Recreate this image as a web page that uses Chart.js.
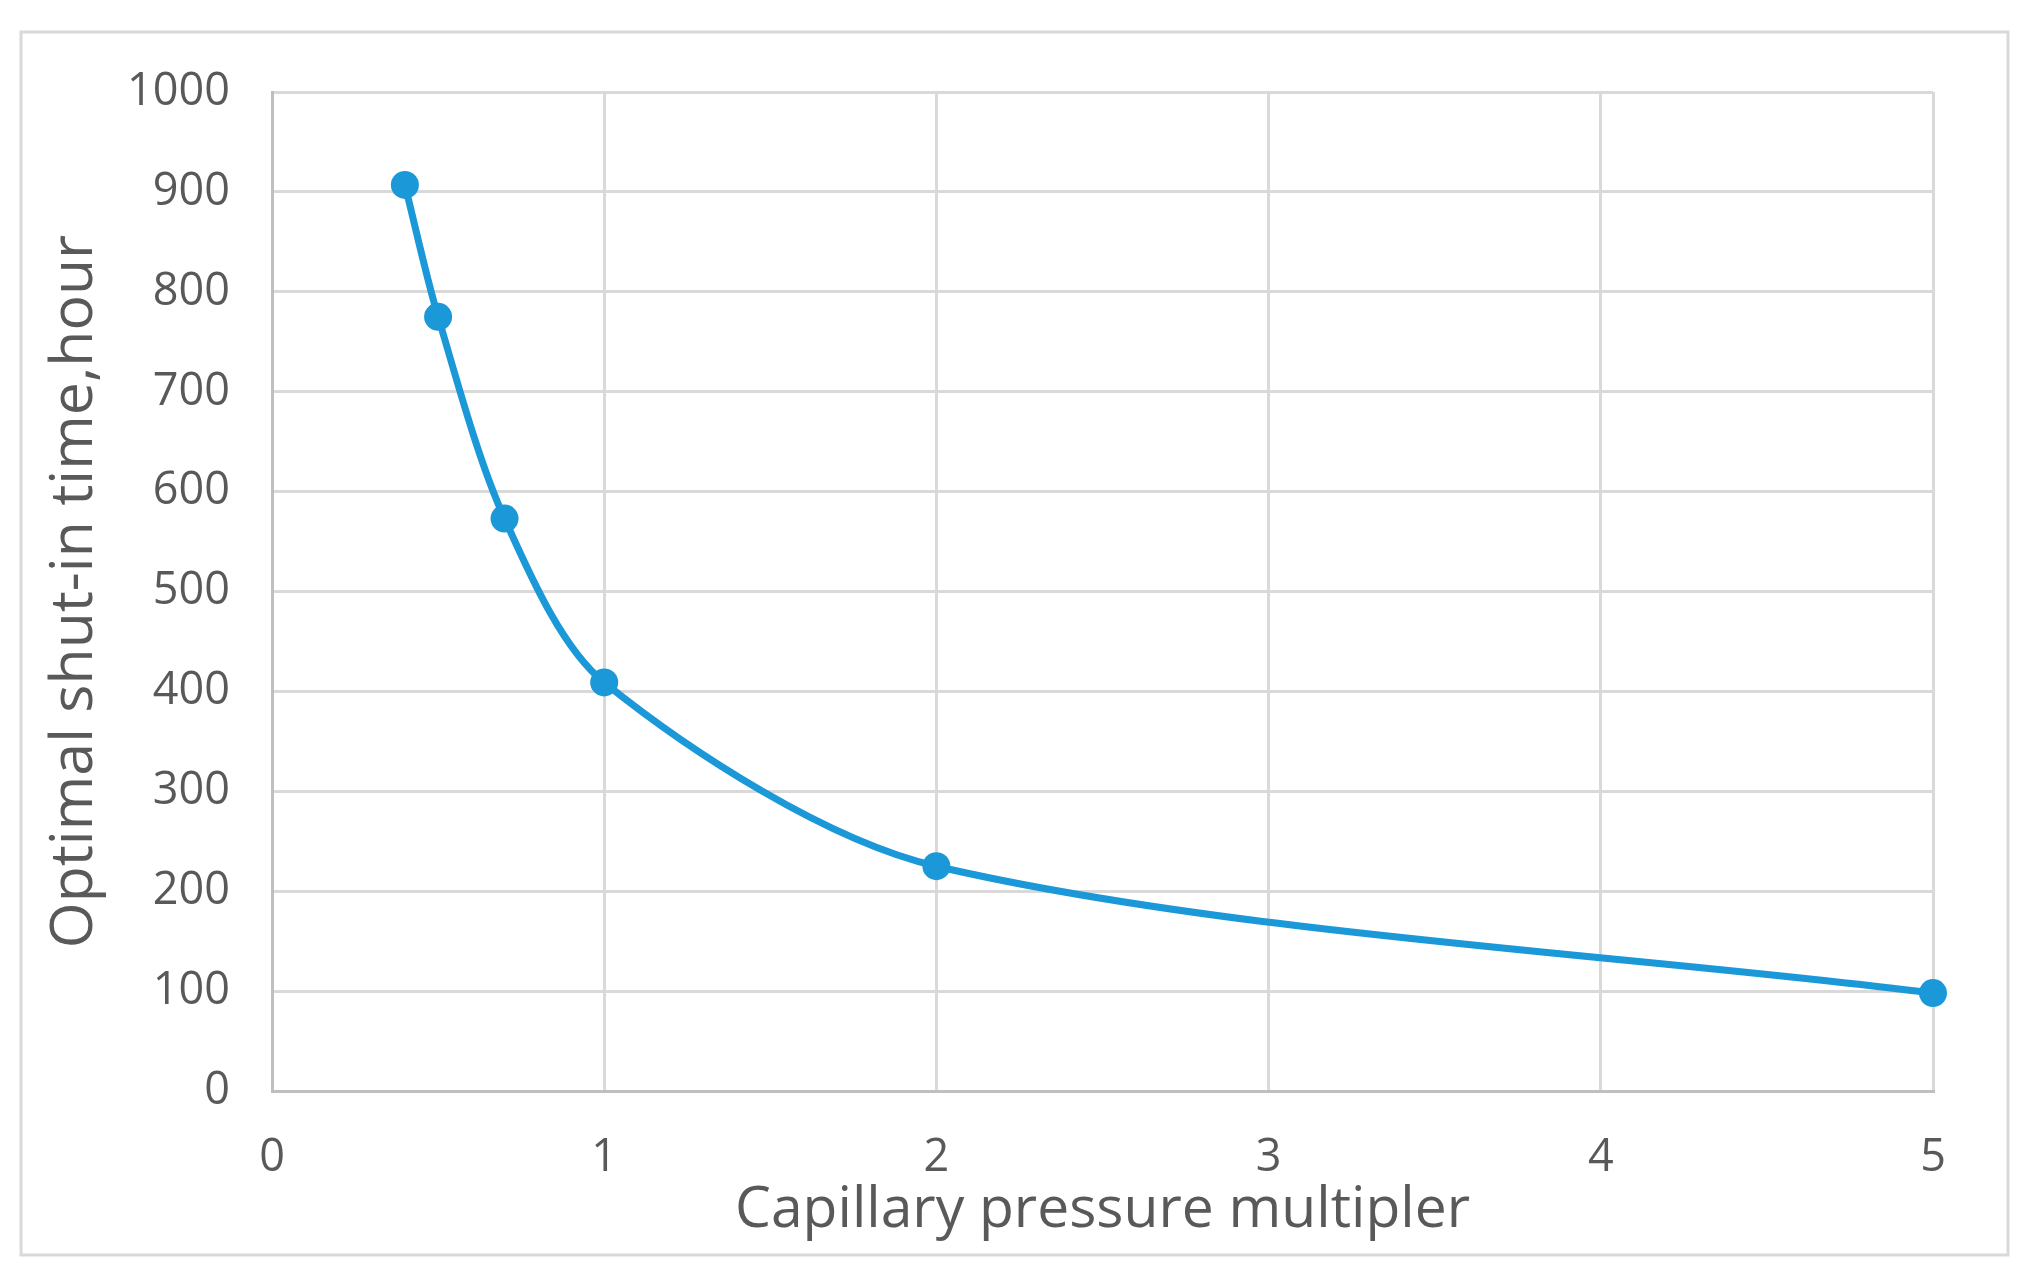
<!DOCTYPE html>
<html>
<head>
<meta charset="utf-8">
<script src="https://cdn.jsdelivr.net/npm/chart.js@4.4.1/dist/chart.umd.min.js"></script>
<style>
  html, body { margin: 0; padding: 0; background: #fff; }
  #wrap { width: 2025px; height: 1275px; position: relative; }
</style>
</head>
<body>
<div id="wrap"><canvas id="myChart" width="2025" height="1275"></canvas></div>
<script>
var multiplier = [0.4, 0.5, 0.7, 1, 2, 5];
var shutInHours = [907, 775, 573, 409, 225, 98];
var xTicks = [0, 1, 2, 3, 4, 5];
var yTicks = [0, 100, 200, 300, 400, 500, 600, 700, 800, 900, 1000];

var textGray = "#595959";
var blue = "#1b98d8";

// light outer frame like the exported Excel chart
var framePlugin = {
    id: "frame",
    beforeDraw: function (chart) {
        var c = chart.ctx;
        c.save();
        c.fillStyle = "#fff";
        c.fillRect(0, 0, chart.width, chart.height);
        c.strokeStyle = "#d9d9d9";
        c.lineWidth = 3;
        c.strokeRect(21, 32, 1987, 1223);
        c.restore();
    }
};

var ctx = document.getElementById("myChart");

var myChart = new Chart(ctx, {
    type: "line",
    data: {
        datasets: [
            {
                label: "Optimal shut-in time",
                data: multiplier.map(function (x, i) { return { x: x, y: shutInHours[i] }; }),
                borderColor: blue,
                backgroundColor: blue,
                borderWidth: 7,
                pointRadius: 14,
                pointBorderWidth: 0,
                pointBackgroundColor: blue,
                tension: 0.3,
                clip: false,
                fill: false
            }
        ]
    },
    options: {
        responsive: false,
        animation: false,
        layout: { padding: { left: 40, top: 92, right: 92, bottom: 30 } },
        plugins: {
            legend: { display: false },
            tooltip: { enabled: false }
        },
        scales: {
            x: {
                type: "linear",
                min: 0,
                max: 5,
                afterBuildTicks: function (s) { s.ticks = xTicks.map(function (v) { return { value: v }; }); },
                afterFit: function (s) { s.height = 154; },
                grid: { color: "#d9d9d9", lineWidth: 3, drawTicks: false },
                border: { color: "#bfbfbf", width: 3 },
                ticks: { color: textGray, font: { family: "Open Sans", size: 45 }, padding: 40, maxRotation: 0 },
                title: {
                    display: true,
                    text: "Capillary pressure multipler",
                    color: textGray,
                    font: { family: "Open Sans", size: 57 },
                    padding: { top: 0, bottom: 0 }
                }
            },
            y: {
                min: 0,
                max: 1000,
                afterBuildTicks: function (s) { s.ticks = yTicks.map(function (v) { return { value: v }; }); },
                afterFit: function (s) { s.width = 232; },
                grid: { color: "#d9d9d9", lineWidth: 3, drawTicks: false },
                border: { color: "#bfbfbf", width: 3 },
                ticks: {
                    color: textGray,
                    font: { family: "Open Sans", size: 45 },
                    padding: 42,
                    callback: function (v) { return String(v); }
                },
                title: {
                    display: true,
                    text: "Optimal shut-in time,hour",
                    color: textGray,
                    font: { family: "Open Sans", size: 59 },
                    padding: { top: 0, bottom: 0 }
                }
            }
        }
    },
    plugins: [framePlugin]
});
</script>
</body>
</html>
